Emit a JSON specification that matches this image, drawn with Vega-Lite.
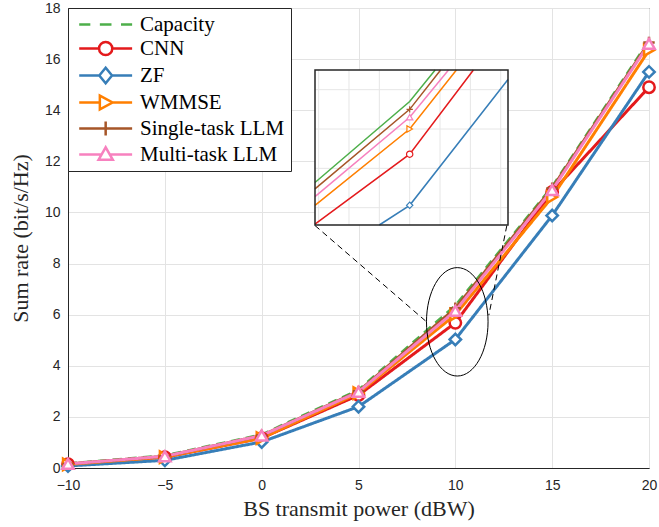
{
  "$schema": "https://vega.github.io/schema/vega-lite/v6.json",
  "width": 581,
  "height": 460,
  "autosize": {"type": "none"},
  "padding": {"left": 68, "top": 8, "right": 10, "bottom": 59},
  "background": "white",
  "config": {
    "view": {"stroke": "#262626", "strokeWidth": 1},
    "axis": {
      "labelFont": "Liberation Sans",
      "labelFontSize": 14,
      "labelColor": "#262626",
      "titleFont": "Liberation Serif",
      "titleFontSize": 22,
      "titleFontWeight": "normal",
      "titleColor": "#262626",
      "gridColor": "#e3e3e3",
      "gridWidth": 1,
      "domainColor": "#262626",
      "domainWidth": 1,
      "ticks": false,
      "labelFlush": false,
      "labelOverlap": false
    },
    "legend": {
      "orient": "top-left",
      "offset": 0,
      "padding": 6,
      "strokeColor": "#262626",
      "fillColor": "white",
      "labelFont": "Liberation Serif",
      "labelFontSize": 21,
      "labelColor": "black",
      "symbolSize": 112,
      "symbolStrokeWidth": 2.5,
      "symbolFillColor": "white",
      "symbolOpacity": 1,
      "labelOffset": 45,
      "rowPadding": 1,
      "cornerRadius": 0
    }
  },
  "datasets": {
    "main": [
      {"series": "Capacity", "x": -10, "y": 0.17},
      {"series": "Capacity", "x": -5, "y": 0.48},
      {"series": "Capacity", "x": 0, "y": 1.3},
      {"series": "Capacity", "x": 5, "y": 3.05},
      {"series": "Capacity", "x": 10, "y": 6.35},
      {"series": "Capacity", "x": 15, "y": 11.0},
      {"series": "Capacity", "x": 20, "y": 16.72},
      {"series": "CNN", "x": -10, "y": 0.15},
      {"series": "CNN", "x": -5, "y": 0.42},
      {"series": "CNN", "x": 0, "y": 1.17},
      {"series": "CNN", "x": 5, "y": 2.85},
      {"series": "CNN", "x": 10, "y": 5.68},
      {"series": "CNN", "x": 15, "y": 10.8},
      {"series": "CNN", "x": 20, "y": 14.9},
      {"series": "ZF", "x": -10, "y": 0.08},
      {"series": "ZF", "x": -5, "y": 0.3},
      {"series": "ZF", "x": 0, "y": 1.02},
      {"series": "ZF", "x": 5, "y": 2.4},
      {"series": "ZF", "x": 10, "y": 5.03},
      {"series": "ZF", "x": 15, "y": 9.88},
      {"series": "ZF", "x": 20, "y": 15.5},
      {"series": "WMMSE", "x": -10, "y": 0.14},
      {"series": "WMMSE", "x": -5, "y": 0.43},
      {"series": "WMMSE", "x": 0, "y": 1.17},
      {"series": "WMMSE", "x": 5, "y": 2.93},
      {"series": "WMMSE", "x": 10, "y": 6.0},
      {"series": "WMMSE", "x": 15, "y": 10.6},
      {"series": "WMMSE", "x": 20, "y": 16.35},
      {"series": "Single-task LLM", "x": -10, "y": 0.16},
      {"series": "Single-task LLM", "x": -5, "y": 0.46},
      {"series": "Single-task LLM", "x": 0, "y": 1.27},
      {"series": "Single-task LLM", "x": 5, "y": 3.0},
      {"series": "Single-task LLM", "x": 10, "y": 6.25},
      {"series": "Single-task LLM", "x": 15, "y": 10.95},
      {"series": "Single-task LLM", "x": 20, "y": 16.65},
      {"series": "Multi-task LLM", "x": -10, "y": 0.16},
      {"series": "Multi-task LLM", "x": -5, "y": 0.46},
      {"series": "Multi-task LLM", "x": 0, "y": 1.27},
      {"series": "Multi-task LLM", "x": 5, "y": 2.98},
      {"series": "Multi-task LLM", "x": 10, "y": 6.15},
      {"series": "Multi-task LLM", "x": 15, "y": 10.88},
      {"series": "Multi-task LLM", "x": 20, "y": 16.6}
    ],
    "inset": [
      {"series": "Capacity", "x": 8.44, "y": 5.32},
      {"series": "Capacity", "x": 10, "y": 6.35},
      {"series": "Capacity", "x": 10.42, "y": 6.75},
      {"series": "CNN", "x": 8.44, "y": 4.79},
      {"series": "CNN", "x": 10, "y": 5.68},
      {"series": "CNN", "x": 11.05, "y": 6.75},
      {"series": "ZF", "x": 9.5, "y": 4.78},
      {"series": "ZF", "x": 10, "y": 5.03},
      {"series": "ZF", "x": 11.62, "y": 6.63},
      {"series": "WMMSE", "x": 8.44, "y": 5.03},
      {"series": "WMMSE", "x": 10, "y": 6.0},
      {"series": "WMMSE", "x": 10.77, "y": 6.75},
      {"series": "Single-task LLM", "x": 8.44, "y": 5.24},
      {"series": "Single-task LLM", "x": 10, "y": 6.25},
      {"series": "Single-task LLM", "x": 10.51, "y": 6.75},
      {"series": "Multi-task LLM", "x": 8.44, "y": 5.14},
      {"series": "Multi-task LLM", "x": 10, "y": 6.15},
      {"series": "Multi-task LLM", "x": 10.64, "y": 6.75}
    ]
  },
  "layer": [
    {
      "layer": [
        {
          "data": {"name": "main"},
          "mark": {"type": "line", "strokeWidth": 3},
          "encoding": {
            "x": {"field": "x", "type": "quantitative", "scale": {"domain": [-10, 20], "nice": false, "zero": false}, "axis": {"values": [-10, -5, 0, 5, 10, 15, 20], "title": "BS transmit power (dBW)", "labelPadding": 10, "titlePadding": 6}},
            "y": {"field": "y", "type": "quantitative", "scale": {"domain": [0, 18], "nice": false, "zero": false}, "axis": {"values": [0, 2, 4, 6, 8, 10, 12, 14, 16, 18], "title": "Sum rate (bit/s/Hz)", "labelPadding": 8, "titlePadding": 12}},
            "color": {"field": "series", "type": "nominal", "legend": null, "scale": {"domain": ["Capacity", "CNN", "ZF", "WMMSE", "Single-task LLM", "Multi-task LLM"], "range": ["#4daf4a", "#e41a1c", "#377eb8", "#ff7f00", "#a65628", "#f781bf"]}},
            "strokeDash": {"field": "series", "type": "nominal", "legend": null, "scale": {"domain": ["Capacity", "CNN", "ZF", "WMMSE", "Single-task LLM", "Multi-task LLM"], "range": [[9, 6], [1, 0], [1, 0], [1, 0], [1, 0], [1, 0]]}}
          }
        },
        {
          "data": {"name": "main"},
          "transform": [{"filter": "datum.series !== 'Capacity'"}],
          "mark": {"type": "point", "filled": true, "fill": "white", "strokeWidth": 2.5, "size": 130, "opacity": 1},
          "encoding": {
            "x": {"field": "x", "type": "quantitative"},
            "y": {"field": "y", "type": "quantitative"},
            "stroke": {"field": "series", "type": "nominal", "legend": null, "scale": {"domain": ["Capacity", "CNN", "ZF", "WMMSE", "Single-task LLM", "Multi-task LLM"], "range": ["#4daf4a", "#e41a1c", "#377eb8", "#ff7f00", "#a65628", "#f781bf"]}},
            "shape": {"field": "series", "type": "nominal", "legend": null, "scale": {"domain": ["CNN", "ZF", "WMMSE", "Single-task LLM", "Multi-task LLM"], "range": ["circle", "diamond", "triangle-right", "M-1,0H1M0,-1V1", "triangle-up"]}}
          }
        },
        {
          "data": {"name": "main"},
          "transform": [{"filter": "datum.x > 100"}],
          "mark": {"type": "point", "filled": true, "fill": "white", "strokeWidth": 2.5, "opacity": 1},
          "encoding": {
            "x": {"field": "x", "type": "quantitative"},
            "y": {"field": "y", "type": "quantitative"},
            "stroke": {
              "field": "series",
              "type": "nominal",
              "scale": {"domain": ["Capacity", "CNN", "ZF", "WMMSE", "Single-task LLM", "Multi-task LLM"], "range": ["#4daf4a", "#e41a1c", "#377eb8", "#ff7f00", "#a65628", "#f781bf"]},
              "legend": {"title": null}
            },
            "shape": {
              "field": "series",
              "type": "nominal",
              "scale": {
                "domain": ["Capacity", "CNN", "ZF", "WMMSE", "Single-task LLM", "Multi-task LLM"],
                "range": [
                  "M-1,0H1.1M2.9,0H5.1M6.9,0H9",
                  "M-1,0H2.75M5.25,0H9M2.75,0A1.25,1.25 0 1,0 5.25,0A1.25,1.25 0 1,0 2.75,0Z",
                  "M-1,0H2.8M5.2,0H9M2.8,0L4,-1.45L5.2,0L4,1.45Z",
                  "M-1,0H2.9M5.3,0H9M2.9,-1.3L5.3,0L2.9,1.3Z",
                  "M-1,0H9M4,-1.3V1.3",
                  "M-1,0H3.25M4.75,0H9M2.65,1L4,-1.35L5.35,1Z"
                ]
              },
              "legend": {"title": null}
            }
          }
        },
        {
          "data": {"values": [{"x": 10.1, "y": 5.72}]},
          "mark": {"type": "point", "filled": false, "stroke": "black", "strokeWidth": 1, "size": 11750, "opacity": 1, "shape": "M-0.568,0A0.568,1 0 1,0 0.568,0A0.568,1 0 1,0 -0.568,0Z"},
          "encoding": {
            "x": {"field": "x", "type": "quantitative"},
            "y": {"field": "y", "type": "quantitative"}
          }
        },
        {
          "data": {"values": [
            {"x": 2.75, "y": 9.49, "x2": 8.53, "y2": 5.71},
            {"x": 12.66, "y": 9.49, "x2": 11.73, "y2": 5.98}
          ]},
          "mark": {"type": "rule", "color": "black", "strokeWidth": 1, "strokeDash": [6, 4]},
          "encoding": {
            "x": {"field": "x", "type": "quantitative"},
            "y": {"field": "y", "type": "quantitative"},
            "x2": {"field": "x2"},
            "y2": {"field": "y2"}
          }
        }
      ],
      "resolve": {"scale": {"shape": "independent", "stroke": "independent"}, "legend": {"shape": "independent", "stroke": "independent"}}
    },
    {
      "layer": [
        {
          "data": {"values": [{"x": 8.44, "x2": 11.62, "y": 4.78, "y2": 6.75}]},
          "mark": {"type": "rect", "fill": "white", "strokeWidth": 0},
          "encoding": {
            "x": {"field": "x", "type": "quantitative", "axis": null, "scale": {"domain": [8.44, 11.62], "range": [247, 440], "nice": false, "zero": false}},
            "y": {"field": "y", "type": "quantitative", "axis": null, "scale": {"domain": [4.78, 6.75], "range": [217, 62], "nice": false, "zero": false}},
            "x2": {"field": "x2"},
            "y2": {"field": "y2"}
          }
        },
        {
          "data": {"values": [{"g": 8.5}, {"g": 9.0}, {"g": 9.5}, {"g": 10.0}, {"g": 10.5}, {"g": 11.0}, {"g": 11.5}]},
          "mark": {"type": "rule", "color": "#e6e6e6", "strokeWidth": 1},
          "encoding": {
            "x": {"field": "g", "type": "quantitative"},
            "y": {"datum": 4.78, "type": "quantitative"},
            "y2": {"datum": 6.75}
          }
        },
        {
          "data": {"values": [{"g": 5.0}, {"g": 5.5}, {"g": 6.0}, {"g": 6.5}]},
          "mark": {"type": "rule", "color": "#e6e6e6", "strokeWidth": 1},
          "encoding": {
            "y": {"field": "g", "type": "quantitative"},
            "x": {"datum": 8.44, "type": "quantitative"},
            "x2": {"datum": 11.62}
          }
        },
        {
          "data": {"name": "inset"},
          "mark": {"type": "line", "strokeWidth": 1.5},
          "encoding": {
            "x": {"field": "x", "type": "quantitative"},
            "y": {"field": "y", "type": "quantitative"},
            "color": {"field": "series", "type": "nominal", "legend": null, "scale": {"domain": ["Capacity", "CNN", "ZF", "WMMSE", "Single-task LLM", "Multi-task LLM"], "range": ["#4daf4a", "#e41a1c", "#377eb8", "#ff7f00", "#a65628", "#f781bf"]}}
          }
        },
        {
          "data": {"name": "main"},
          "transform": [{"filter": "datum.x === 10 && datum.series !== 'Capacity'"}],
          "mark": {"type": "point", "filled": true, "fill": "white", "strokeWidth": 1.2, "size": 40, "opacity": 1},
          "encoding": {
            "x": {"field": "x", "type": "quantitative"},
            "y": {"field": "y", "type": "quantitative"},
            "stroke": {"field": "series", "type": "nominal", "legend": null, "scale": {"domain": ["Capacity", "CNN", "ZF", "WMMSE", "Single-task LLM", "Multi-task LLM"], "range": ["#4daf4a", "#e41a1c", "#377eb8", "#ff7f00", "#a65628", "#f781bf"]}},
            "shape": {"field": "series", "type": "nominal", "legend": null, "scale": {"domain": ["CNN", "ZF", "WMMSE", "Single-task LLM", "Multi-task LLM"], "range": ["circle", "diamond", "triangle-right", "M-1,0H1M0,-1V1", "triangle-up"]}}
          }
        },
        {
          "data": {"values": [{"x": 8.44, "x2": 11.62, "y": 4.78, "y2": 6.75}]},
          "mark": {"type": "rect", "fill": null, "fillOpacity": 0, "stroke": "#262626", "strokeWidth": 1.5},
          "encoding": {
            "x": {"field": "x", "type": "quantitative"},
            "y": {"field": "y", "type": "quantitative"},
            "x2": {"field": "x2"},
            "y2": {"field": "y2"}
          }
        }
      ]
    }
  ],
  "resolve": {"scale": {"x": "independent", "y": "independent", "shape": "independent", "stroke": "independent"}}
}
